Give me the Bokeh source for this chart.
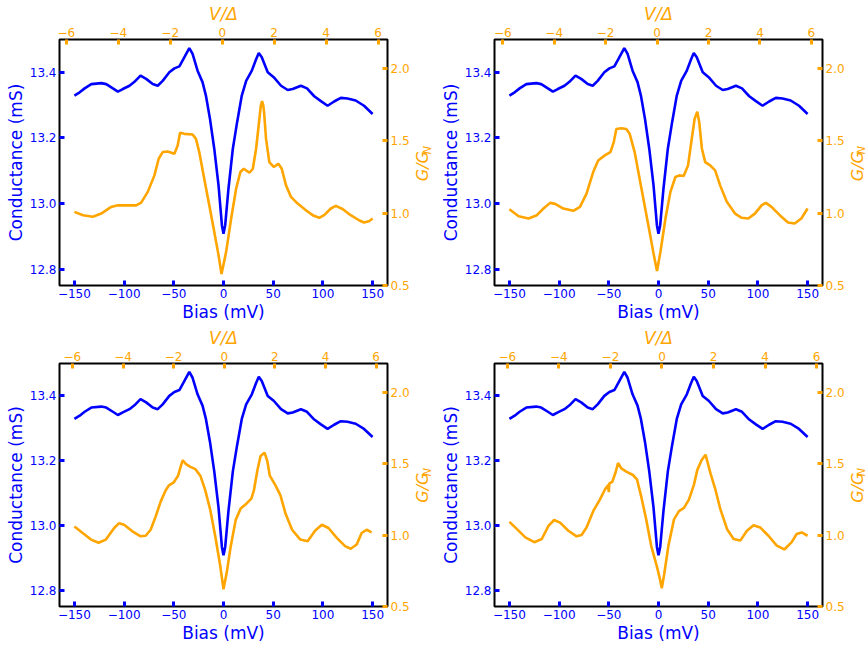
from bokeh.plotting import figure
from bokeh.models import Range1d, LinearAxis, FixedTicker
from bokeh.layouts import row, column
from bokeh.core.properties import value
from bokeh.embed import file_html
from bokeh.resources import INLINE

# ---------------- data ----------------
bias_mv = [-150, -144.7, -139.7, -133, -123, -118, -111.3, -106.3, -101.3, -94.6, -89.6, -83.5,
           -77.8, -71.2, -66.2, -61.2, -54.5, -49.4, -44.4, -40.4, -34.4, -31.1, -26.1, -21.1,
           -17.7, -13.6, -9.3, -5, -1.6, 0, 1.7, 5, 9.4, 13.7, 18.4, 22.8, 28.5, 32.8, 35.5,
           38.5, 44.5, 50.5, 57.9, 64.6, 69.6, 77.9, 84, 91.3, 98, 104.7, 111.3, 118, 124.8,
           133, 141.4, 150]
conductance_ms = [13.329, 13.339, 13.351, 13.364, 13.367, 13.364, 13.351, 13.341, 13.349, 13.359,
                  13.371, 13.39, 13.38, 13.364, 13.359, 13.374, 13.40, 13.412, 13.418, 13.44,
                  13.474, 13.456, 13.405, 13.37, 13.329, 13.258, 13.167, 13.055, 12.934, 12.908,
                  12.934, 13.045, 13.167, 13.248, 13.329, 13.374, 13.405, 13.44, 13.459, 13.446,
                  13.40, 13.385, 13.359, 13.346, 13.349, 13.359, 13.351, 13.327, 13.312, 13.298,
                  13.311, 13.322, 13.32, 13.314, 13.298, 13.273]

bias_a = [-150, -141.4, -131.4, -123, -113, -106.3, -87.9, -82.8, -76.2, -69.5, -65.2, -61.2,
          -56.2, -49.4, -46.1, -43.7, -39.4, -31.1, -27.7, -24.4, -19.4, -14.3, -9.3, -5, -2,
          2.7, 7.7, 12.7, 17, 20.4, 26.1, 29.5, 32.8, 36.1, 37.5, 38.8, 40, 40.8, 42.8, 46.1,
          50.5, 55.2, 58.6, 62.9, 67.9, 74.6, 82.9, 89.7, 96.3, 101.3, 108, 113, 119.8, 128,
          136.3, 141.4, 146.4, 150]
gn_a = [1.009, 0.986, 0.975, 0.997, 1.043, 1.054, 1.054, 1.073, 1.147, 1.261, 1.376, 1.422,
        1.426, 1.41, 1.467, 1.555, 1.548, 1.543, 1.513, 1.422, 1.238, 1.054, 0.871, 0.71, 0.58,
        0.734, 0.963, 1.169, 1.284, 1.307, 1.279, 1.307, 1.445, 1.651, 1.74, 1.775, 1.745, 1.70,
        1.513, 1.353, 1.319, 1.341, 1.307, 1.192, 1.112, 1.066, 1.02, 0.986, 0.968, 0.986, 1.032,
        1.05, 1.029, 0.986, 0.951, 0.935, 0.944, 0.963]

bias_b = [-150, -140.7, -130.7, -122.4, -115.7, -109, -104, -95.7, -85.7, -79, -72.4, -65.7,
          -60.7, -54, -48.4, -45, -42.4, -37.4, -32.4, -29, -24, -19, -14, -9, -4.7, -1.5, 2,
          7, 12, 17, 21, 25.3, 29.7, 33, 36.3, 39, 41, 43.7, 47, 52, 57, 62, 68.7, 77, 83.7,
          90.3, 97, 103.7, 108, 113.7, 122, 130.3, 137, 143.7, 150]
gn_b = [1.027, 0.979, 0.963, 0.986, 1.032, 1.071, 1.064, 1.032, 1.016, 1.043, 1.135, 1.284,
        1.364, 1.399, 1.422, 1.491, 1.582, 1.587, 1.582, 1.548, 1.422, 1.238, 1.054, 0.871,
        0.71, 0.60, 0.734, 0.963, 1.147, 1.25, 1.261, 1.257, 1.33, 1.491, 1.651, 1.701, 1.628,
        1.445, 1.353, 1.33, 1.295, 1.192, 1.078, 0.997, 0.968, 0.963, 0.997, 1.054, 1.071,
        1.043, 0.986, 0.935, 0.928, 0.963, 1.032]

bias_c = [-150, -141.7, -133.3, -125.7, -118.3, -110, -105, -100, -91.7, -83.3, -78.3, -73.3,
          -68.3, -63.3, -58.3, -55, -50, -45.7, -42.3, -41, -37.7, -33.3, -28.3, -23.3, -18.3,
          -13.3, -8.3, -3.3, 0, 3.3, 7.3, 12.3, 17.3, 23.3, 28, 30.6, 34, 37.3, 41.3, 44, 46.6,
          52.3, 57.3, 62.3, 69, 77.3, 84.6, 92.3, 99, 105.6, 114, 122.3, 128, 134, 139, 144, 149]
gn_c = [1.06, 1.014, 0.968, 0.946, 0.968, 1.049, 1.083, 1.072, 1.026, 0.991, 0.995, 1.037,
        1.129, 1.232, 1.312, 1.347, 1.369, 1.415, 1.496, 1.523, 1.496, 1.477, 1.461, 1.415,
        1.312, 1.175, 0.991, 0.785, 0.62, 0.739, 0.922, 1.106, 1.186, 1.221, 1.255, 1.312,
        1.45, 1.553, 1.576, 1.519, 1.415, 1.347, 1.278, 1.152, 1.037, 0.968, 0.957, 1.032,
        1.072, 1.049, 0.98, 0.922, 0.904, 0.934, 1.014, 1.037, 1.019]

bias_d = [-150, -142.4, -134, -125, -117.4, -110.7, -105, -99, -90.7, -82.4, -77.4, -72.4,
          -65.7, -59, -54, -50.7, -50.0, -49.5, -46.4, -43, -40.7, -37.4, -32.4, -25.7, -21.7,
          -17.4, -12.4, -7.4, -2, 1.3, 3.3, 5.6, 10, 15.6, 20.6, 25.6, 30.6, 35.6, 39, 43.3,
          47.3, 49.3, 52.3, 57.3, 62.3, 69, 75.6, 82.3, 89, 95.6, 102.3, 110.6, 119, 126.6,
          134, 139, 144, 150]
gn_d = [1.092, 1.041, 0.984, 0.95, 0.972, 1.064, 1.105, 1.087, 1.03, 0.991, 1.0, 1.053, 1.167,
        1.248, 1.317, 1.351, 1.30, 1.36, 1.374, 1.443, 1.504, 1.466, 1.443, 1.42, 1.39, 1.27,
        1.11, 0.926, 0.79, 0.697, 0.628, 0.72, 0.926, 1.11, 1.167, 1.19, 1.248, 1.351, 1.454,
        1.523, 1.562, 1.511, 1.431, 1.317, 1.179, 1.041, 0.972, 0.961, 1.03, 1.069, 1.053,
        0.995, 0.926, 0.899, 0.95, 1.007, 1.018, 0.995]

vdelta_ranges = [(-6.26, 6.36), (-6.32, 6.43), (-6.51, 6.45), (-6.50, 6.23)]

bias_ticks = [-150, -100, -50, 0, 50, 100, 150]
bias_labels = ["\u2212150", "\u2212100", "\u221250", "0", "50", "100", "150"]
cond_ticks = [12.8, 13.0, 13.2, 13.4]
cond_labels = ["12.8", "13.0", "13.2", "13.4"]
gn_ticks = [0.5, 1.0, 1.5, 2.0]
gn_labels = ["0.5", "1.0", "1.5", "2.0"]
vd_ticks = [-6, -4, -2, 0, 2, 4, 6]
vd_labels = ["\u22126", "\u22124", "\u22122", "0", "2", "4", "6"]

BLUE = "#0000ff"
ORANGE = "#ffa500"
FONT = "DejaVu Sans"
XR = (-165, 165)
YR = (12.75, 13.5)
GR = (0.5, 2.2)


def style_axis(ax, ticks, labels, color, label=None, italic=False):
    ax.ticker = FixedTicker(ticks=ticks, minor_ticks=[])
    ax.major_label_overrides = dict(zip(ticks, labels))
    ax.major_label_text_color = color
    ax.major_label_text_font = FONT
    ax.major_label_text_font_size = "12px"
    ax.major_label_standoff = 3
    ax.major_tick_in = 5
    ax.major_tick_out = 0
    ax.major_tick_line_color = color
    ax.major_tick_line_width = 3
    ax.minor_tick_line_color = None
    ax.axis_line_color = None
    if label is not None:
        ax.axis_label = label
        ax.axis_label_text_color = color
        ax.axis_label_text_font = FONT
        ax.axis_label_text_font_size = "17px"
        ax.axis_label_text_font_style = "italic" if italic else "normal"
        ax.axis_label_standoff = 1


def make_panel(bx, gy, vr, bl, br, bt, bb, fw, fh):
    p = figure(frame_width=fw, frame_height=fh,
               x_range=Range1d(*XR), y_range=Range1d(*YR),
               output_backend="svg", toolbar_location=None,
               min_border_left=bl, min_border_right=br,
               min_border_top=bt, min_border_bottom=bb)
    p.xgrid.visible = False
    p.ygrid.visible = False
    p.outline_line_color = "black"
    p.outline_line_width = 2
    p.outline_line_alpha = 1
    p.background_fill_color = "white"
    p.border_fill_color = "white"

    p.extra_x_ranges = {"v": Range1d(*vr)}
    p.extra_y_ranges = {"g": Range1d(*GR)}

    style_axis(p.xaxis[0], bias_ticks, bias_labels, BLUE, "Bias (mV)")
    style_axis(p.yaxis[0], cond_ticks, cond_labels, BLUE, "Conductance (mS)")

    top = LinearAxis(x_range_name="v")
    style_axis(top, vd_ticks, vd_labels, ORANGE, "V/\u0394", italic=True)
    p.add_layout(top, "above")

    right = LinearAxis(y_range_name="g")
    style_axis(right, gn_ticks, gn_labels, ORANGE)
    p.add_layout(right, "right")

    p.line(bias_mv, conductance_ms, line_color=BLUE, line_width=2.6)
    p.line(bx, gy, line_color=ORANGE, line_width=2.6, y_range_name="g")
    return p


def make_title_strip(w, h, bt, fh, xg, xn):
    """Narrow strip holding the right-hand axis title G/G_N (rotated)."""
    f = figure(width=w, height=h, x_range=Range1d(0, w), y_range=Range1d(0, h),
               output_backend="svg", toolbar_location=None,
               x_axis_location=None, y_axis_location=None, min_border=0)
    f.grid.visible = False
    f.outline_line_color = None
    f.border_fill_color = "white"
    f.background_fill_color = "white"
    yg = h - (bt + 0.52 * fh)
    yn = h - (bt + 0.435 * fh)
    f.text(x=[xg], y=[yg], text=["G/G"], angle=1.5708, text_align="center",
           text_baseline="middle", text_color=ORANGE, text_font=value(FONT),
           text_font_size="16px", text_font_style="italic")
    f.text(x=[xn], y=[yn], text=["N"], angle=1.5708, text_align="center",
           text_baseline="middle", text_color=ORANGE, text_font=value(FONT),
           text_font_size="11px", text_font_style="italic")
    return f


FW = 328
H1, BT1, FH1, BB1 = 323, 39, 246, 38
H2, BT2, FH2, BB2 = 319, 38, 243, 38

p1 = make_panel(bias_a, gn_a, vdelta_ranges[0], 59, 23, BT1, BB1, FW, FH1)
s1 = make_title_strip(21, H1, BT1, FH1, 10, 14.5)
p2 = make_panel(bias_b, gn_b, vdelta_ranges[1], 61, 23, BT1, BB1, FW, FH1)
s2 = make_title_strip(20, H1, BT1, FH1, 10, 14)
p3 = make_panel(bias_c, gn_c, vdelta_ranges[2], 59, 23, BT2, BB2, FW, FH2)
s3 = make_title_strip(21, H2, BT2, FH2, 10, 14.5)
p4 = make_panel(bias_d, gn_d, vdelta_ranges[3], 61, 23, BT2, BB2, FW, FH2)
s4 = make_title_strip(20, H2, BT2, FH2, 10, 14)

layout = column(row(p1, s1, p2, s2), row(p3, s3, p4, s4))

open("out.html", "w").write(file_html(layout, INLINE))
